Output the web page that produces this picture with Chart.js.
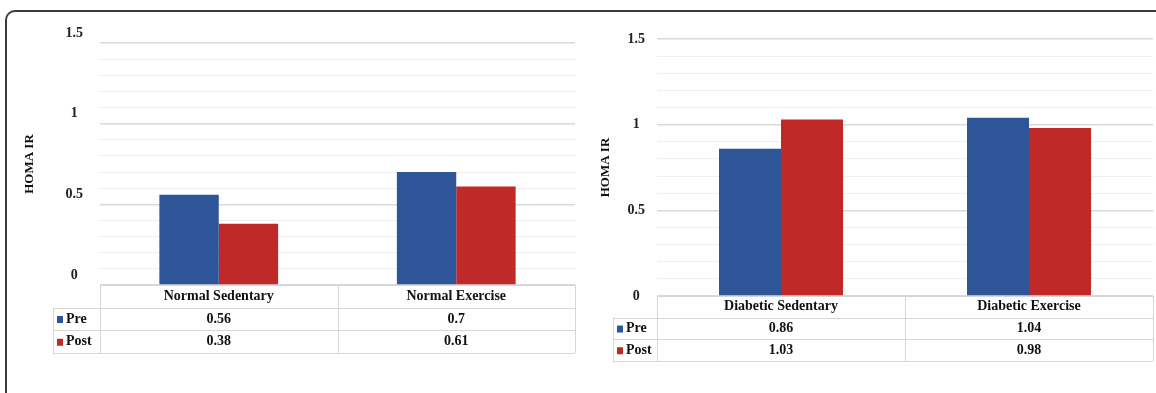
<!DOCTYPE html>
<html>
<head>
<meta charset="utf-8">
<script src="https://cdn.jsdelivr.net/npm/chart.js"></script>
<style>
  body { margin: 0; background: #fff; width: 1156px; height: 393px; overflow: hidden; position: relative; }
  #frame { position: absolute; left: 5px; top: 10px; width: 1200px; height: 420px;
           border-top: 2px solid #3a3a3a; border-left: 2px solid #3a3a3a; border-top-left-radius: 10px; }
  canvas { position: absolute; top: 0; }
</style>
</head>
<body>
<div id="frame"></div>
<canvas id="leftChart" width="580" height="393" style="left:0px"></canvas>
<canvas id="rightChart" width="576" height="393" style="left:580px"></canvas>
<script>
//------------------------------------------------------//
//data for the two panels
let seriesNames = ["Pre", "Post"]
let normalGroups = ["Normal Sedentary", "Normal Exercise"]
let normalPre = [0.56, 0.7]
let normalPost = [0.38, 0.61]
let diabeticGroups = ["Diabetic Sedentary", "Diabetic Exercise"]
let diabeticPre = [0.86, 1.04]
let diabeticPost = [1.03, 0.98]
let yTickLabels = ["0", "0.5", "1", "1.5"]

const preColor = "#2E5597"
const postColor = "#BF2A28"
const serif = "'Liberation Serif', 'Times New Roman', serif"

//draws the excel style data table under the plot area
const dataTablePlugin = {
    id: "dataTable",
    afterDraw(chart, args, opts) {
        const ctx = chart.ctx
        const area = chart.chartArea
        const xScale = chart.scales.x
        const rowH = opts.rowH
        const legLeft = area.left - opts.legendWidth
        const top = area.bottom
        const n = chart.data.labels.length
        const step = (area.right - area.left) / n
        ctx.save()
        ctx.strokeStyle = "#d6d6d6"
        ctx.lineWidth = 1
        ctx.beginPath()
        //horizontal lines
        ctx.moveTo(area.left, top + 0.5); ctx.lineTo(area.right, top + 0.5)
        for (let r = 1; r <= 3; r++) {
            let y = Math.round(top + rowH * r) + 0.5
            ctx.moveTo(legLeft, y); ctx.lineTo(area.right, y)
        }
        //vertical lines
        ctx.moveTo(legLeft + 0.5, top + rowH); ctx.lineTo(legLeft + 0.5, top + rowH * 3)
        for (let c = 0; c <= n; c++) {
            let x = Math.round(area.left + step * c) + 0.5
            ctx.moveTo(x, top); ctx.lineTo(x, top + rowH * 3)
        }
        ctx.stroke()

        ctx.fillStyle = "#111"
        ctx.font = "bold 14px " + serif
        ctx.textAlign = "center"
        ctx.textBaseline = "middle"
        chart.data.labels.forEach((lab, i) => {
            let cx = xScale.getPixelForValue(i)
            ctx.fillText(lab, cx, top + rowH * 0.5)
            chart.data.datasets.forEach((ds, j) => {
                ctx.fillText(String(ds.data[i]), cx, top + rowH * (j + 1.5))
            })
        })
        ctx.textAlign = "left"
        chart.data.datasets.forEach((ds, j) => {
            let cy = top + rowH * (j + 1.5)
            ctx.fillStyle = ds.backgroundColor
            ctx.fillRect(legLeft + 4, cy - 3, 6, 7)
            ctx.fillStyle = "#111"
            ctx.fillText(ds.label, legLeft + 13, cy)
        })
        ctx.restore()
    }
}

const isMajor = (v) => Math.abs(v * 2 - Math.round(v * 2)) < 1e-6

//This function creates one of the panels
const createCanvas = (id, groups, pre, post, pad, axisWidth, tickPad, labelShift, titlePad, tableOpts) => {
    let ctx = document.getElementById(id).getContext("2d")
    return new Chart(ctx, {
        type: "bar",
        data: {
            labels: groups,
            datasets: [
                { label: seriesNames[0], data: pre, backgroundColor: preColor },
                { label: seriesNames[1], data: post, backgroundColor: postColor }
            ]
        },
        plugins: [dataTablePlugin],
        options: {
            responsive: false,
            animation: false,
            layout: { padding: pad },
            datasets: { bar: { categoryPercentage: 0.5, barPercentage: 1.0 } },
            plugins: {
                legend: { display: false },
                tooltip: { enabled: false },
                dataTable: tableOpts
            },
            scales: {
                x: { display: false },
                y: {
                    min: 0,
                    max: 1.5,
                    afterFit: (scale) => { scale.width = axisWidth },
                    border: { display: false },
                    grid: {
                        drawTicks: false,
                        color: (c) => isMajor(c.tick.value) ? "#d9d9d9" : "#efefef",
                        lineWidth: (c) => isMajor(c.tick.value) ? 1.5 : 1
                    },
                    ticks: {
                        stepSize: 0.1,
                        autoSkip: false,
                        padding: tickPad,
                        crossAlign: "center",
                        labelOffset: labelShift,
                        color: "#222",
                        font: { family: serif, size: 14, weight: "bold" },
                        callback: (v) => isMajor(v) ? yTickLabels[Math.round(v * 2)] : ""
                    },
                    title: {
                        display: true,
                        text: "HOMA IR",
                        color: "#111",
                        padding: { top: titlePad, bottom: 0 },
                        font: { family: serif, size: 13, weight: "bold" }
                    }
                }
            }
        }
    })
}

createCanvas("leftChart", normalGroups, normalPre, normalPost,
    { top: 43, bottom: 108, left: 0, right: 5 }, 100, 17, -10, 22, { rowH: 22.7, legendWidth: 47 })
createCanvas("rightChart", diabeticGroups, diabeticPre, diabeticPost,
    { top: 39, bottom: 97, left: 0, right: 3 }, 77, 12, 0, 18, { rowH: 21.7, legendWidth: 44 })
</script>
</body>
</html>
